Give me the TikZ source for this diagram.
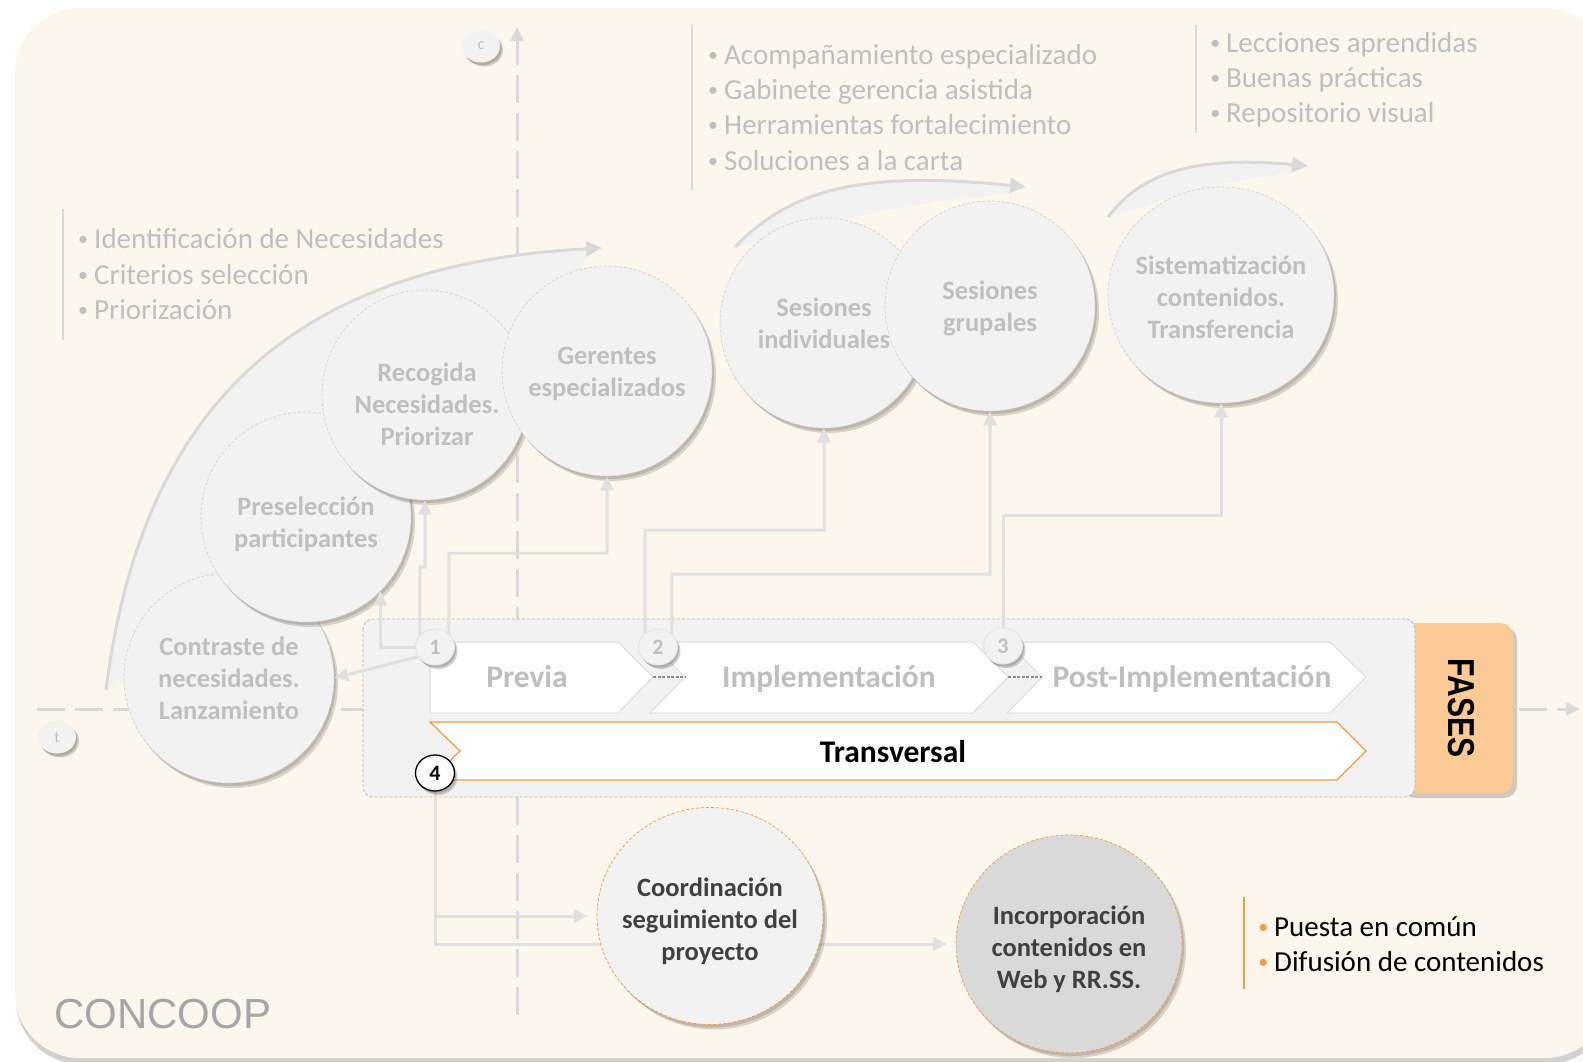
\documentclass[tikz,border=0pt]{standalone}
\usepackage{fontspec}
\setmainfont{Carlito}
\newfontfamily\arialfont{Liberation Sans}
\usetikzlibrary{shapes.geometric,arrows.meta,shadows}
\definecolor{cream}{HTML}{FDF6EC}
\definecolor{bub}{HTML}{F2F2F2}
\definecolor{bubline}{HTML}{D2D2D2}
\definecolor{txtg}{HTML}{BFBFBF}
\definecolor{linec}{HTML}{E0E0E0}
\definecolor{axisc}{HTML}{D9D9D9}
\definecolor{chevline}{HTML}{DCDCDC}
\definecolor{numline}{HTML}{E4E4E4}
\definecolor{boxline}{HTML}{B8B8B8}
\definecolor{fasesc}{HTML}{FCCA95}
\definecolor{orng}{HTML}{F79A3E}
\definecolor{darkt}{HTML}{404040}
\definecolor{incc}{HTML}{D9D9D9}
\definecolor{concc}{HTML}{A6A6A6}
\definecolor{shadc}{HTML}{6E645A}
\newcommand\mybul[1]{\llap{\raisebox{3pt}{\textcolor{#1}{\fontsize{20}{20}\selectfont •}}\hspace{6pt}}}
\begin{document}
\begin{tikzpicture}[x=1pt,y=-1pt,
 shad/.style={drop shadow={shadow xshift=2pt,shadow yshift=-3pt,opacity=0.25,fill=shadc},
              drop shadow={shadow xshift=4pt,shadow yshift=-5pt,opacity=0.25,fill=shadc}},
 smshad/.style={drop shadow={shadow xshift=1.5pt,shadow yshift=-2.5pt,opacity=0.3,fill=shadc},
              drop shadow={shadow xshift=3pt,shadow yshift=-4pt,opacity=0.3,fill=shadc}},
 bubble/.style={ellipse,fill=bub,draw=bubline,line width=0.7pt,dash pattern=on 3pt off 2pt,inner sep=0pt,shad},
 phantom/.style={ellipse,inner sep=0pt},
 bubtxt/.style={font=\fontsize{26.5}{32}\selectfont\bfseries,text=txtg,align=center,inner sep=0pt},
 axisline/.style={draw=axisc,line width=3pt,dash pattern=on 28pt off 10pt,-{Triangle[length=14pt,width=13pt]}},
 conn/.style={draw=linec,line width=3pt,-{Triangle[length=14pt,width=13pt]}},
 leafline/.style={draw=axisc,line width=3pt,-{Triangle[length=16pt,width=15pt]}},
 listtxt/.style={anchor=base west,inner sep=0pt,font=\fontsize{29}{35}\selectfont,text=txtg},
 vbar/.style={draw=axisc,line width=1.5pt},
 chev/.style={fill=white,draw=chevline,line width=1pt},
 phase/.style={anchor=base,inner sep=0pt,font=\fontsize{31.5}{32}\selectfont\bfseries,text=txtg},
 numsize/.style={ellipse,minimum width=39pt,minimum height=36pt,inner sep=0pt},
 numc/.style={numsize,fill=bub,draw=numline,line width=1pt,font=\fontsize{22}{22}\selectfont\bfseries,text=txtg,smshad},
 smallc/.style={ellipse,minimum width=38pt,minimum height=33pt,inner sep=0pt,fill=bub,font=\fontsize{16}{16}\selectfont,text=txtg,smshad},
 linkd/.style={draw=gray!90,line width=1.5pt,dash pattern=on 3pt off 1.5pt}
]
\useasboundingbox (0,0) rectangle (1583,1061);

% background
\fill[shadc,opacity=0.3,rounded corners=65pt] (16,13) rectangle (1612,1064);
\fill[cream,rounded corners=65pt] (15,8) rectangle (1610,1058);
% axes
\coordinate (vax0) at (517,1015);
\coordinate (vax1) at (517,27);
\coordinate (hax0) at (37,709);
\coordinate (hax1) at (1580,709);
\draw[axisline] (vax0) -- (vax1);
\draw[axisline] (hax0) -- (hax1);
\node[smallc] (cc) at (481,46) {c};
\node[smallc] (tt) at (57,737) {t};

% leaves
\fill[bub] (106,690) .. controls (140,420) and (280,265) .. (595,247) -- (586,257) -- (560,300) -- (425,395) -- (306,517) -- (229,678) -- (124,682) -- cycle;
\draw[leafline] (106,690) .. controls (140,420) and (280,265) .. (602,248);
\fill[bub] (735,247) .. controls (790,190) and (860,170) .. (1016,187) -- (1010,194) .. controls (930,200) and (860,212) .. (800,235) -- cycle;
\draw[leafline] (735,247) .. controls (790,190) and (860,170) .. (1026,187);
\fill[bub] (1108,217) .. controls (1140,175) and (1190,155) .. (1298,166) -- (1293,173) .. controls (1250,178) and (1200,185) .. (1150,205) -- cycle;
\draw[leafline] (1108,217) .. controls (1140,175) and (1190,155) .. (1308,166);

% top lists
\draw[vbar] (63,209) -- (63,340);
\node[listtxt] (l1a) at (94,248) {\mybul{txtg}Identificación de Necesidades};
\node[listtxt] (l1b) at (94,284) {\mybul{txtg}Criterios selección};
\node[listtxt] (l1c) at (94,319) {\mybul{txtg}Priorización};
\draw[vbar] (692,25) -- (692,190);
\node[listtxt] (l2a) at (724,64) {\mybul{txtg}Acompañamiento especializado};
\node[listtxt] (l2b) at (724,99) {\mybul{txtg}Gabinete gerencia asistida};
\node[listtxt] (l2c) at (724,134) {\mybul{txtg}Herramientas fortalecimiento};
\node[listtxt] (l2d) at (724,170) {\mybul{txtg}Soluciones a la carta};
\draw[vbar] (1196,25) -- (1196,133);
\node[listtxt] (l3a) at (1226,52) {\mybul{txtg}Lecciones aprendidas};
\node[listtxt] (l3b) at (1226,87) {\mybul{txtg}Buenas prácticas};
\node[listtxt] (l3c) at (1226,122) {\mybul{txtg}Repositorio visual};

% bubbles
\node[bubble,minimum width=210pt,minimum height=210pt] (cont) at (229,678) {};
\node[bubtxt] (contt) at (cont) {Contraste de\\necesidades.\\Lanzamiento};
\node[bubble,minimum width=210pt,minimum height=210pt] (pre) at (306,517) {};
\node[bubtxt,yshift=-7pt] (pret) at (pre) {Preselección\\participantes};
\node[bubble,minimum width=206pt,minimum height=210pt] (rec) at (425,395) {};
\node[bubtxt,yshift=-9pt,xshift=2pt] (rect) at (rec) {Recogida\\Necesidades.\\Priorizar};
\node[bubble,minimum width=210pt,minimum height=210pt] (ger) at (607,371) {};
\node[bubtxt,yshift=-3pt] (gert) at (ger) {Gerentes\\especializados};
\node[bubble,minimum width=208pt,minimum height=210pt] (sind) at (824,323) {};
\node[bubtxt] (sindt) at (sind) {Sesiones\\individuales};
\node[bubble,minimum width=210pt,minimum height=210pt] (sgru) at (990,306) {};
\node[bubtxt,yshift=-2pt] (sgrut) at (sgru) {Sesiones\\grupales};
\node[bubble,minimum width=226pt,minimum height=216pt] (sist) at (1221,295) {};
\node[bubtxt,yshift=-2pt] (sistt) at (sist) {Sistematización\\contenidos.\\Transferencia};

% phases box
\fill[shadc,opacity=0.3,rounded corners=13pt] (1402,627) rectangle (1517,798);
\fill[fasesc,rounded corners=13pt] (1398,623) rectangle (1513,793);
\draw[fill=bub,draw=boxline,line width=0.8pt,dash pattern=on 3pt off 2pt,rounded corners=10pt] (363,619) rectangle (1415,797);
\node[rotate=-90,inner sep=0pt,font=\arialfont\bfseries\fontsize{30}{30}\selectfont] (fases) at (1461,708) {\scalebox{1}[1.25]{FASES}};

\draw[chev] (430,642) -- (618,642) -- (653,677) -- (618,713) -- (430,713) -- cycle;
\draw[chev] (650,642) -- (973,642) -- (1008,677) -- (973,713) -- (650,713) -- (685,677) -- cycle;
\draw[chev] (1007,642) -- (1330,642) -- (1366,677) -- (1330,713) -- (1007,713) -- (1042,677) -- cycle;
\draw[fill=white,draw=orng,line width=1.2pt] (430,722) -- (1337,722) -- (1366,751) -- (1337,780) -- (430,780) -- (460,751) -- cycle;
\coordinate (k1a) at (653,677);
\coordinate (k1b) at (685,677);
\coordinate (k2a) at (1008,677);
\coordinate (k2b) at (1042,677);
\draw[linkd] (k1a) -- (k1b);
\draw[linkd] (k2a) -- (k2b);
\node[phase] (ph1) at (527,687) {Previa};
\node[phase] (ph2) at (829,687) {Implementación};
\node[phase] (ph3) at (1192,687) {Post-Implementación};
\node[phase,text=black] (ph4) at (893,762) {Transversal};

% anchor shapes for the connectors (drawn later on top)
\node[numsize] (p1) at (435,647) {};
\node[numsize] (p2) at (658,647) {};
\node[numsize] (p3) at (1003,646) {};
\node[numsize] (p4) at (435,773) {};
\node[phantom,minimum width=226pt,minimum height=217pt] (pcoord) at (710,916) {};
\node[phantom,minimum width=226pt,minimum height=218pt] (pinc) at (1069,944) {};

% connectors
\draw[conn] (p1.210) -- (cont.east);
\draw[conn] (p1.west) -| (pre.-45);
\draw[conn] (p1.142) -- (420,567) -| (rec.south);
\draw[conn] (p1.43) -- (449,553) -| (ger.south);
\draw[conn] (p2.133) -- (645,530) -| (sind.south);
\draw[conn] (p2.43) -- (672,574) -| (sgru.south);
\draw[conn] (p3.north) -- (1003,515) -| (sist.south);
\draw[conn,shorten >=9pt] (p4.south) |- (pcoord.west);
\draw[conn,shorten >=9pt] (p4.south) |- (pinc.west);

% number circles
\node[numc] (n1) at (p1) {1};
\node[numc] (n2) at (p2) {2};
\node[numc] (n3) at (p3) {3};
\node[numc,fill=white,draw=black,line width=1.3pt,text=black] (n4) at (p4) {4};

% bottom bubbles
\node[bubble,draw=orng,minimum width=226pt,minimum height=217pt] (coord) at (pcoord) {};
\node[bubtxt,text=darkt,yshift=-5pt] (coordt) at (coord) {Coordinación\\seguimiento del\\proyecto};
\node[bubble,draw=orng,fill=incc,minimum width=226pt,minimum height=218pt] (inc) at (pinc) {};
\node[bubtxt,text=darkt,yshift=-5pt] (inct) at (inc) {Incorporación\\contenidos en\\Web y RR.SS.};

% bottom list
\draw[draw=orng,line width=1.5pt] (1244,897) -- (1244,989);
\node[listtxt,text=black] (l4a) at (1274,936) {\mybul{orng}Puesta en común};
\node[listtxt,text=black] (l4b) at (1274,971) {\mybul{orng}Difusión de contenidos};

\node[anchor=base west,inner sep=0pt,font=\arialfont\fontsize{42}{42}\selectfont,text=concc] (conc) at (54,1028) {CONCOOP};
\end{tikzpicture}
\end{document}
